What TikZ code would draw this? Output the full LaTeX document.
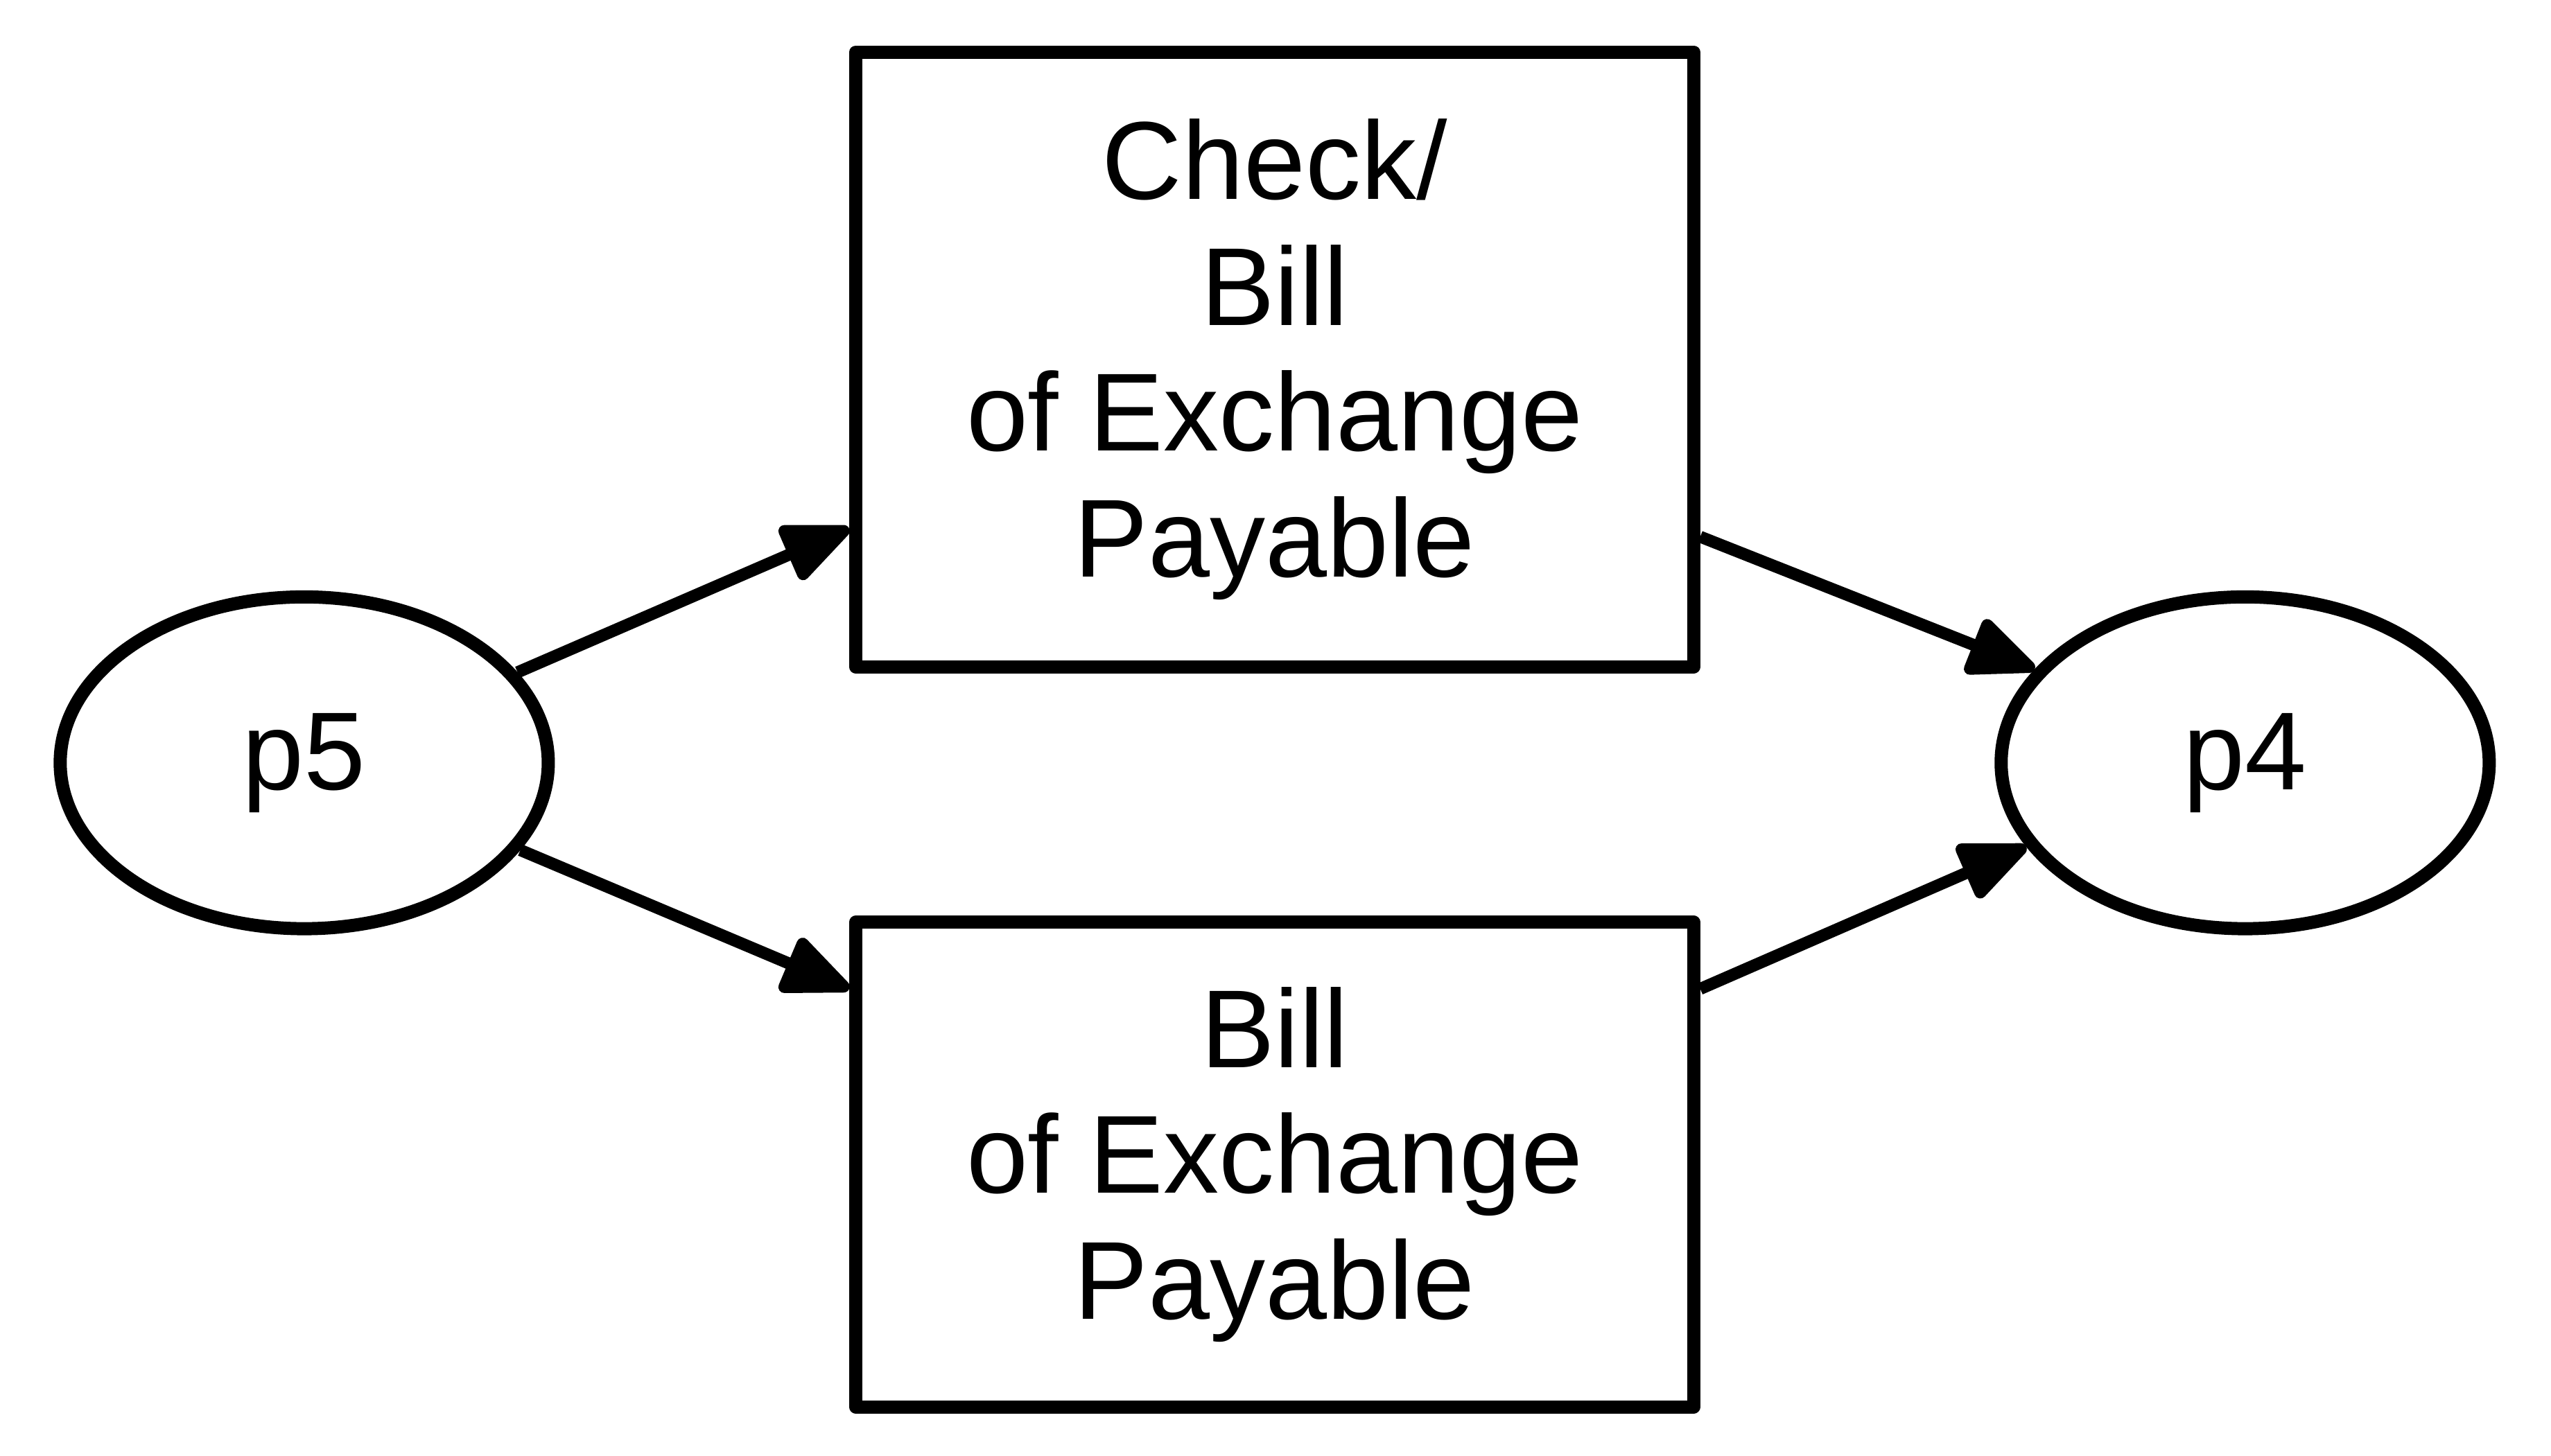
\documentclass[tikz,border=0pt]{standalone}
\usepackage{fontspec}
\setmainfont{Liberation Sans}
\usetikzlibrary{arrows.meta, shapes.geometric, positioning}

\tikzset{
  place/.style={draw, ellipse, line width=2.3pt, minimum width=3.0cm, minimum height=2.04cm, inner sep=0pt, font=\fontsize{19.4}{22}\selectfont},
  trans/.style={draw, rectangle, line width=2.3pt, line join=round, minimum width=5.15cm, align=center, inner sep=0pt, font=\fontsize{19.4}{22}\selectfont},
  flow/.style={line width=2.1pt, -{Triangle[length=0.47cm, width=0.38cm, round]}}
}

\begin{document}
\begin{tikzpicture}
  \useasboundingbox (0,0) rectangle (15.68,-8.95);

  \node[place] (p5) at (1.87,-4.69) {p5};
  \node[place] (p4) at (13.80,-4.69) {p4};

  \node[trans, minimum height=3.78cm] (check) at (7.835,-2.21) {Check/\\Bill\\of Exchange\\Payable};
  \node[trans, minimum height=2.98cm] (bill) at (7.835,-7.16) {Bill\\of Exchange\\Payable};

  \draw[flow] (p5.23) -- ([yshift=-1.04cm]check.west);
  \draw[flow] (p5.-22) -- ([yshift=1.08cm]bill.west);
  \draw[flow] ([yshift=-1.09cm]check.east) -- (p4.156);
  \draw[flow] ([yshift=1.08cm]bill.east) -- (p4.201);
\end{tikzpicture}
\end{document}
